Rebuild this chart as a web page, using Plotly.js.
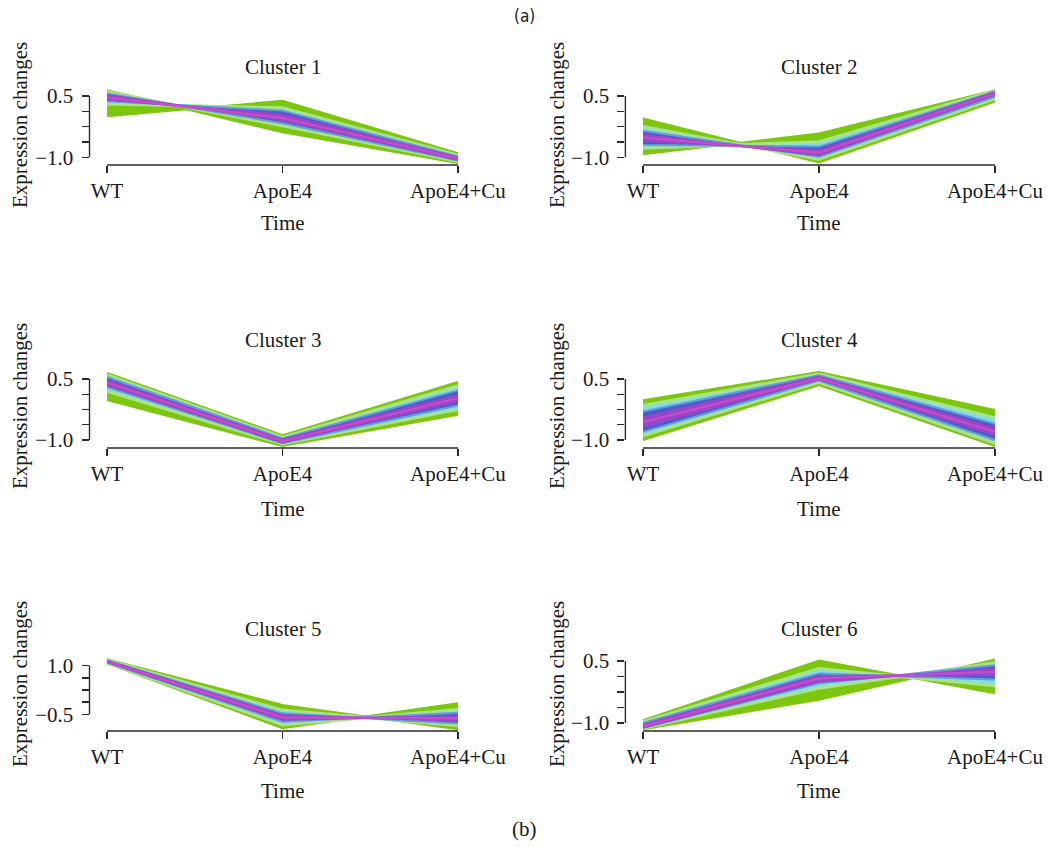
<!DOCTYPE html>
<html>
<head>
<meta charset="utf-8">
<script src="https://cdn.plot.ly/plotly-3.0.1.min.js"></script>
<style>html,body{margin:0;padding:0;background:#fff;}#chart{width:1049px;height:847px;}</style>
</head>
<body>
<div id="chart"></div>
<script>
// ---- categories / labels ----
const CATS = ['WT', 'ApoE4', 'ApoE4+Cu'];
const TITLES = ['Cluster 1', 'Cluster 2', 'Cluster 3', 'Cluster 4', 'Cluster 5', 'Cluster 6'];
const Y_TICKVALS_A = [0.5, 0.125, -0.25, -0.625, -1.0];
const Y_TICKTEXT_A = ['0.5', '', '', '', '\u22121.0'];
const Y_TICKVALS_B = [1.0, 0.625, 0.25, -0.125, -0.5];
const Y_TICKTEXT_B = ['1.0', '', '', '', '\u22120.5'];

// ---- cluster envelopes (A/B = the two boundary profiles of each membership band) ----
// Cluster 1
const c1_greenA  = [0.64, -0.39, -1.14];
const c1_greenB  = [0.00,  0.38, -0.90];
const c1_cyanA   = [0.60, -0.23, -1.10];
const c1_cyanB   = [0.30,  0.21, -0.95];
const c1_blueA   = [0.56, -0.17, -1.08];
const c1_blueB   = [0.37,  0.14, -0.98];
const c1_purpleA = [0.52, -0.10, -1.06];
const c1_purpleB = [0.41,  0.04, -1.00];
const c1_core    = [0.46, -0.04, -1.03];
// Cluster 2
const c2_greenA  = [-0.05, -1.13, 0.36];
const c2_greenB  = [-0.93, -0.42, 0.64];
const c2_cyanA   = [-0.25, -1.05, 0.43];
const c2_cyanB   = [-0.78, -0.62, 0.63];
const c2_blueA   = [-0.35, -0.99, 0.48];
const c2_blueB   = [-0.70, -0.74, 0.61];
const c2_purpleA = [-0.45, -0.95, 0.53];
const c2_purpleB = [-0.60, -0.83, 0.59];
const c2_core    = [-0.52, -0.89, 0.56];
// Cluster 3
const c3_greenA  = [0.65, -0.88,  0.43];
const c3_greenB  = [-0.02, -1.15, -0.38];
const c3_cyanA   = [0.60, -0.93,  0.33];
const c3_cyanB   = [0.20, -1.10, -0.25];
const c3_blueA   = [0.55, -0.96,  0.22];
const c3_blueB   = [0.30, -1.08, -0.15];
const c3_purpleA = [0.47, -0.99,  0.10];
const c3_purpleB = [0.35, -1.06, -0.04];
const c3_core    = [0.41, -1.03,  0.03];
// Cluster 4
const c4_greenA  = [-0.02, 0.67, -0.26];
const c4_greenB  = [-1.00, 0.35, -1.15];
const c4_cyanA   = [-0.15, 0.62, -0.45];
const c4_cyanB   = [-0.90, 0.42, -1.08];
const c4_blueA   = [-0.30, 0.59, -0.60];
const c4_blueB   = [-0.80, 0.46, -1.00];
const c4_purpleA = [-0.45, 0.56, -0.72];
const c4_purpleB = [-0.67, 0.49, -0.88];
const c4_core    = [-0.56, 0.52, -0.80];
// Cluster 5
const c5_greenA  = [1.20, -0.21, -0.96];
const c5_greenB  = [1.07, -0.93, -0.16];
const c5_cyanA   = [1.18, -0.37, -0.85];
const c5_cyanB   = [1.09, -0.83, -0.35];
const c5_blueA   = [1.16, -0.47, -0.78];
const c5_blueB   = [1.10, -0.73, -0.45];
const c5_purpleA = [1.15, -0.53, -0.70];
const c5_purpleB = [1.11, -0.67, -0.55];
const c5_core    = [1.13, -0.60, -0.62];
// Cluster 6
const c6_greenA  = [-0.93,  0.51, -0.28];
const c6_greenB  = [-1.15, -0.44,  0.54];
const c6_cyanA   = [-0.97,  0.32, -0.10];
const c6_cyanB   = [-1.13, -0.16,  0.46];
const c6_blueA   = [-1.00,  0.20,  0.05];
const c6_blueB   = [-1.12, -0.04,  0.40];
const c6_purpleA = [-1.04,  0.14,  0.16];
const c6_purpleB = [-1.11,  0.00,  0.32];
const c6_core    = [-1.08,  0.08,  0.24];

const CLUSTERS = [
  {green:[c1_greenA,c1_greenB], cyan:[c1_cyanA,c1_cyanB], blue:[c1_blueA,c1_blueB], purple:[c1_purpleA,c1_purpleB], core:c1_core},
  {green:[c2_greenA,c2_greenB], cyan:[c2_cyanA,c2_cyanB], blue:[c2_blueA,c2_blueB], purple:[c2_purpleA,c2_purpleB], core:c2_core},
  {green:[c3_greenA,c3_greenB], cyan:[c3_cyanA,c3_cyanB], blue:[c3_blueA,c3_blueB], purple:[c3_purpleA,c3_purpleB], core:c3_core},
  {green:[c4_greenA,c4_greenB], cyan:[c4_cyanA,c4_cyanB], blue:[c4_blueA,c4_blueB], purple:[c4_purpleA,c4_purpleB], core:c4_core},
  {green:[c5_greenA,c5_greenB], cyan:[c5_cyanA,c5_cyanB], blue:[c5_blueA,c5_blueB], purple:[c5_purpleA,c5_purpleB], core:c5_core},
  {green:[c6_greenA,c6_greenB], cyan:[c6_cyanA,c6_cyanB], blue:[c6_blueA,c6_blueB], purple:[c6_purpleA,c6_purpleB], core:c6_core}
];

// ---- styling ----
const BANDS = ['green', 'cyan', 'blue', 'purple'];
const FILL = {green:'#7cc70e', cyan:'#84dde2', blue:'#4d5bca', purple:'#9a46c8'};
const EDGE = {green:'#7cc70e', cyan:'#a9e28c', blue:'#5e9fdc', purple:'#9a46c8'};
const EDGE_W = {green:2, cyan:3, blue:2, purple:2};
const CORE_COLOR = '#c24ccb';
const FONT = 'Liberation Serif, Times New Roman, serif';
const FS = 21;
const AXC = '#2a2a2a';

const W = 1049, H = 847;
const colX = [[89.5, 475.5], [625.4, 1012.6]];
const rowY = [[82, 165], [365, 448], [648, 731]];
const yRanges = [[-1.19, 0.84], [-1.19, 0.84], [-1.197, 0.844], [-1.197, 0.844], [-1.015, 1.546], [-1.194, 0.815]];
const titleY = [67, 340, 629];
const timeY = [223, 509, 791];
const ylabX = [20, 557];
const ylabY = [125, 406, 684];

const traces = [];
const layout = {
  width: W, height: H,
  margin: {l:0, r:0, t:0, b:0},
  paper_bgcolor: '#fff', plot_bgcolor: 'rgba(0,0,0,0)',
  showlegend: false,
  font: {family: FONT, size: FS, color: '#1a1a1a'},
  shapes: [], annotations: []
};

CLUSTERS.forEach((cl, i) => {
  const col = i % 2, row = Math.floor(i / 2);
  const n = i + 1;
  const xa = 'x' + (n === 1 ? '' : n), ya = 'y' + (n === 1 ? '' : n);
  BANDS.forEach(b => {
    const [A, B] = cl[b];
    traces.push({x: CATS, y: A, xaxis: xa, yaxis: ya, type: 'scatter', mode: 'lines',
      line: {color: EDGE[b], width: EDGE_W[b]}, hoverinfo: 'skip'});
    traces.push({x: CATS, y: B, xaxis: xa, yaxis: ya, type: 'scatter', mode: 'lines', fill: 'tonexty',
      fillcolor: FILL[b], line: {color: EDGE[b], width: EDGE_W[b]}, hoverinfo: 'skip'});
  });
  traces.push({x: CATS, y: cl.core, xaxis: xa, yaxis: ya, type: 'scatter', mode: 'lines',
    line: {color: CORE_COLOR, width: 2.5}, hoverinfo: 'skip'});

  const isB = (i === 4);
  const tv = isB ? Y_TICKVALS_B : Y_TICKVALS_A;
  const tt = isB ? Y_TICKTEXT_B : Y_TICKTEXT_A;
  layout['xaxis' + (n === 1 ? '' : n)] = {
    domain: [colX[col][0] / W, colX[col][1] / W], anchor: ya,
    type: 'category', range: [-0.1, 2.1], showgrid: false, zeroline: false, showline: false,
    ticks: 'outside', ticklen: 7, tickwidth: 1.4, tickcolor: AXC,
    tickfont: {family: FONT, size: FS, color: '#1a1a1a'}, fixedrange: true
  };
  layout['yaxis' + (n === 1 ? '' : n)] = {
    domain: [1 - rowY[row][1] / H, 1 - rowY[row][0] / H], anchor: xa,
    range: yRanges[i], showgrid: false, zeroline: false, showline: false,
    tickmode: 'array', tickvals: tv, ticktext: tt,
    ticks: 'outside', ticklen: 7, tickwidth: 1.4, tickcolor: AXC, ticklabelstandoff: 4,
    tickfont: {family: FONT, size: FS, color: '#1a1a1a'}, fixedrange: true
  };
  // axis lines spanning first to last tick (R style)
  layout.shapes.push({type: 'line', xref: xa + ' domain', yref: ya, x0: 0, x1: 0, y0: tv[tv.length - 1], y1: tv[0],
    line: {color: AXC, width: 1.4}});
  layout.shapes.push({type: 'line', xref: xa, yref: ya + ' domain', x0: 0, x1: 2, y0: 0, y1: 0,
    line: {color: AXC, width: 1.4}});
  const cx = (colX[col][0] + colX[col][1]) / 2;
  layout.annotations.push({text: TITLES[i], xref: 'paper', yref: 'paper', x: cx / W, y: 1 - titleY[row] / H,
    showarrow: false, xanchor: 'center', yanchor: 'middle', font: {family: FONT, size: FS, color: '#1a1a1a'}});
  layout.annotations.push({text: 'Time', xref: 'paper', yref: 'paper', x: cx / W, y: 1 - timeY[row] / H,
    showarrow: false, xanchor: 'center', yanchor: 'middle', font: {family: FONT, size: FS, color: '#1a1a1a'}});
  layout.annotations.push({text: 'Expression changes', xref: 'paper', yref: 'paper', x: ylabX[col] / W, y: 1 - ylabY[row] / H,
    textangle: -90, showarrow: false, xanchor: 'center', yanchor: 'middle', font: {family: FONT, size: FS, color: '#1a1a1a'}});
});

layout.annotations.push({text: '(a)', xref: 'paper', yref: 'paper', x: 524 / W, y: 1 - 16 / H, showarrow: false,
  xanchor: 'center', yanchor: 'middle', font: {family: 'Liberation Sans Narrow, DejaVu Sans Condensed, sans-serif', size: 17, color: '#1a1a1a'}});
layout.annotations.push({text: '(b)', xref: 'paper', yref: 'paper', x: 524 / W, y: 1 - 829 / H, showarrow: false,
  xanchor: 'center', yanchor: 'middle', font: {family: FONT, size: FS, color: '#1a1a1a'}});

Plotly.newPlot('chart', traces, layout, {displayModeBar: false, staticPlot: true});
</script>
</body>
</html>
